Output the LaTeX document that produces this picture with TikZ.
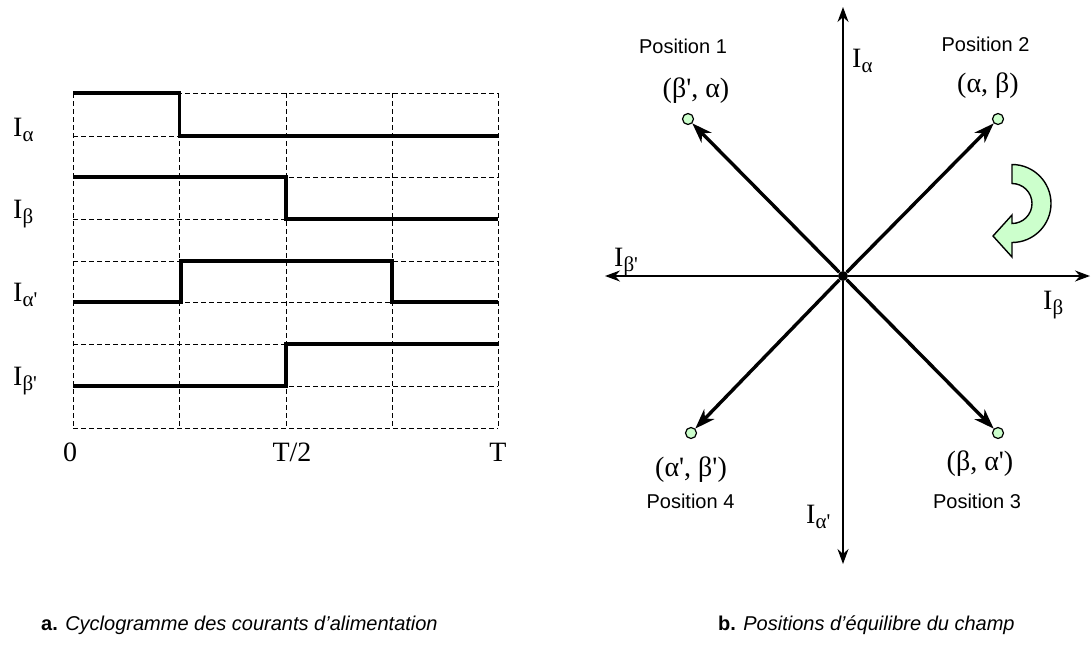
\documentclass[tikz,border=0pt]{standalone}
\usepackage{fontspec}
\setmainfont{Liberation Serif}
\newfontfamily\sansf{Liberation Sans}
\usetikzlibrary{arrows.meta}
\definecolor{mint}{RGB}{204,255,204}
% current label: I with a lowered index
\newcommand{\cur}[1]{I\raisebox{-0.18em}{\fontsize{21}{21}\selectfont #1}}
\newcommand{\pr}{\textquotesingle}

\begin{document}
\begin{tikzpicture}[x=1pt,y=-1pt,>=Stealth,
  gridline/.style={line width=0.9pt,dash pattern=on 5pt off 3pt},
  sig/.style={line width=3.6pt},
  axisline/.style={line width=1.4pt,-{Stealth[length=15pt,width=11pt]}},
  vec/.style={line width=3.4pt,-{Stealth[length=20pt,width=14pt,inset=6pt]}},
  lab/.style={font=\fontsize{28}{31}\selectfont,inner sep=0pt},
  poslab/.style={font=\sansf\fontsize{20}{22}\selectfont,inner sep=0pt},
  captext/.style={font=\sansf\fontsize{20}{22}\selectfont,inner sep=0pt},
  posdot/.style={circle,draw,fill=mint,inner sep=0pt,minimum size=11pt,line width=1.2pt}]
\useasboundingbox (0,0) rectangle (1091,648);

% a. cyclogram
\foreach \x in {73,179.5,286,392,498}
  \draw[gridline] (\x,93) -- (\x,428);
\foreach \y in {93,136,177,219,261,302,344,386,428}
  \draw[gridline] (73,\y) -- (498,\y);
\draw[sig] (73,93) -- (179.5,93) -- (179.5,136) -- (498,136);
\draw[sig] (73,177) -- (286,177) -- (286,219) -- (498,219);
\draw[sig] (73,302) -- (181,302) -- (181,261) -- (392,261) -- (392,302) -- (498,302);
\draw[sig] (73,386) -- (286,386) -- (286,344) -- (498,344);

\node[lab,anchor=base west] (ia) at (13,136) {\cur{α}};
\node[lab,anchor=base west] (ib) at (13,218) {\cur{β}};
\node[lab,anchor=base west] (iap) at (13,301) {\cur{α\pr}};
\node[lab,anchor=base west] (ibp) at (13,385) {\cur{β\pr}};
\node[lab,anchor=base] (t0) at (70,461) {0};
\node[lab,anchor=base] (th) at (292,461) {T/2};
\node[lab,anchor=base] (tt) at (498,461) {T};

% b. equilibrium positions
\node[circle,fill,inner sep=0pt,minimum size=10pt] (O) at (843,276) {};
\coordinate (up) at (843,7);
\coordinate (dn) at (843,564);
\coordinate (lt) at (605,276);
\coordinate (rt) at (1090,276);
\draw[axisline] (O) -- (up);
\draw[axisline] (O) -- (dn);
\draw[axisline] (O) -- (lt);
\draw[axisline] (O) -- (rt);

\node[posdot] (p1) at (688,119) {};
\node[posdot] (p2) at (998,119) {};
\node[posdot] (p3) at (998,433) {};
\node[posdot] (p4) at (691,433) {};
\foreach \p in {p1,p2,p3,p4}
  \draw[vec] (O) -- (\p);

\node[lab] (c1) at (696,91) {(β\pr, α)};
\node[lab] (c2) at (988,86) {(α, β)};
\node[lab] (c3) at (980,463.5) {(β, α\pr)};
\node[lab] (c4) at (691,470) {(α\pr, β\pr)};
\node[poslab] (n1) at (683,46.5) {Position 1};
\node[poslab] (n2) at (985.5,44.5) {Position 2};
\node[poslab] (n3) at (977,501.5) {Position 3};
\node[poslab] (n4) at (690.5,501.5) {Position 4};

\node[lab,anchor=base west] (ya) at (852,67) {\cur{α}};
\node[lab,anchor=base west] (yb) at (1043,309) {\cur{β}};
\node[lab,anchor=base west] (ybp) at (614,266) {\cur{β\pr}};
\node[lab,anchor=base west] (yap) at (806,523) {\cur{α\pr}};

% rotation sense
\draw[fill=mint,line width=1.4pt,line join=miter]
  (1012,164.5) arc[start angle=-90,end angle=90,radius=39]
  -- (1012,257) -- (993,236) -- (1012,215) -- (1012,223.5)
  arc[start angle=90,end angle=-90,radius=20] -- cycle;

\node[captext,anchor=base west] (capa) at (41,630)
  {\textbf{a.} \textit{Cyclogramme des courants d’alimentation}};
\node[captext,anchor=base west] (capb) at (718,630)
  {\textbf{b.} \textit{Positions d’équilibre du champ}};
\end{tikzpicture}
\end{document}
